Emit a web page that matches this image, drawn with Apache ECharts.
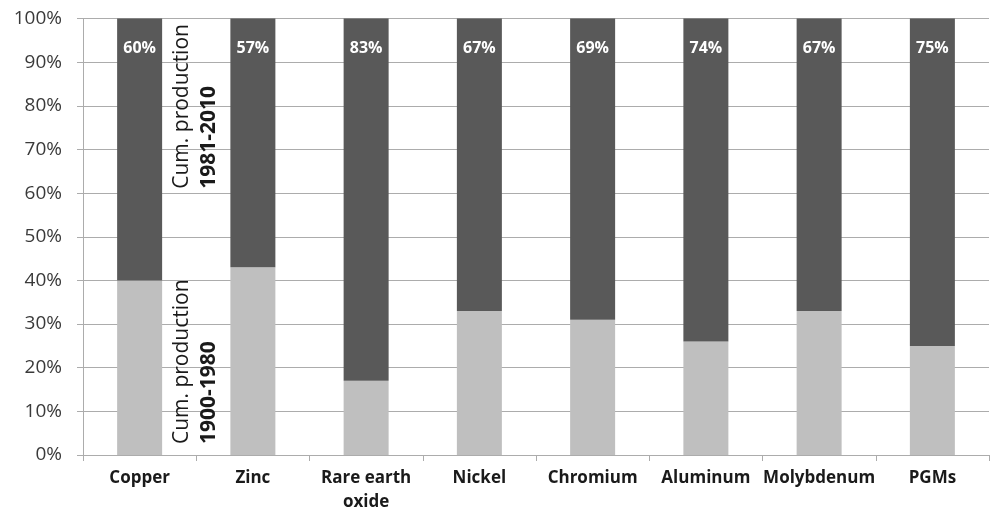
<!DOCTYPE html>
<html>
<head>
<meta charset="utf-8">
<script src="https://cdn.jsdelivr.net/npm/echarts@6/dist/echarts.min.js"></script>
<style>
  html, body { margin: 0; padding: 0; background: #fff; }
  #chart { width: 990px; height: 514px; }
</style>
</head>
<body>
<div id="chart"></div>
<script>
// Share of cumulative metal production by period (percent of 1900-2010 total)
const categories = ['Copper', 'Zinc', 'Rare earth\noxide', 'Nickel', 'Chromium', 'Aluminum', 'Molybdenum', 'PGMs'];
const early1900to1980 = [40, 43, 17, 33, 31, 26, 33, 25];
const recent1981to2010 = [60, 57, 83, 67, 69, 74, 67, 75];
const yTicks = [0, 10, 20, 30, 40, 50, 60, 70, 80, 90, 100];

const FONT = 'Open Sans';
const GRID_COLOR = '#acacac';

const chart = echarts.init(document.getElementById('chart'), null, { renderer: 'canvas' });

chart.setOption({
  animation: false,
  backgroundColor: '#ffffff',
  grid: { left: 83, right: 1, top: 18.5, bottom: 59, containLabel: false },
  xAxis: {
    type: 'category',
    data: categories,
    boundaryGap: true,
    axisLine: { show: true, lineStyle: { color: GRID_COLOR, width: 1 } },
    axisTick: { show: true, length: 6, lineStyle: { color: GRID_COLOR } },
    axisLabel: {
      interval: 0,
      margin: 11,
      fontFamily: FONT,
      fontWeight: 'bold',
      fontSize: 17,
      lineHeight: 24,
      color: '#1a1a1a'
    }
  },
  yAxis: {
    type: 'value',
    min: yTicks[0],
    max: yTicks[yTicks.length - 1],
    interval: 10,
    axisLine: { show: true, lineStyle: { color: GRID_COLOR, width: 1 } },
    axisTick: { show: true, length: 6, lineStyle: { color: GRID_COLOR } },
    splitLine: { show: true, lineStyle: { color: GRID_COLOR, width: 1 } },
    axisLabel: {
      margin: 21,
      fontFamily: FONT,
      fontSize: 19,
      color: '#3a3a3a',
      formatter: v => v + '%'
    }
  },
  series: [
    {
      name: 'Cum. production 1900-1980',
      type: 'bar',
      stack: 'total',
      barWidth: 45,
      data: early1900to1980,
      itemStyle: { color: '#bfbfbf' }
    },
    {
      name: 'Cum. production 1981-2010',
      type: 'bar',
      stack: 'total',
      barWidth: 45,
      data: recent1981to2010,
      itemStyle: { color: '#595959' },
      label: {
        show: true,
        position: 'insideTop',
        distance: 22,
        fontFamily: FONT,
        fontWeight: 'bold',
        fontSize: 16,
        color: '#ffffff',
        formatter: p => p.value + '%'
      }
    }
  ]
});

// Rotated period captions in the gap between the first two bars
function placeCaptions() {
  const x0 = chart.convertToPixel({ xAxisIndex: 0 }, categories[0]);
  const x1 = chart.convertToPixel({ xAxisIndex: 0 }, categories[1]);
  const mid = (x0 + x1) / 2;
  const yUpper = chart.convertToPixel({ yAxisIndex: 0 }, 61);
  const yLower = chart.convertToPixel({ yAxisIndex: 0 }, 2.5);

  function caption(top, bold, x, y) {
    return {
      type: 'group',
      x: x,
      y: y,
      rotation: Math.PI / 2,
      children: [
        {
          type: 'text',
          x: 0, y: -14,
          style: {
            text: top,
            font: 'normal 21px "' + FONT + '"',
            fill: '#1a1a1a',
            align: 'left',
            verticalAlign: 'middle'
          }
        },
        {
          type: 'text',
          x: 0, y: 13,
          style: {
            text: bold,
            font: 'bold 21px "' + FONT + '"',
            fill: '#1a1a1a',
            align: 'left',
            verticalAlign: 'middle'
          }
        }
      ]
    };
  }

  chart.setOption({
    graphic: [
      caption('Cum. production', '1981-2010', mid, yUpper),
      caption('Cum. production', '1900-1980', mid, yLower)
    ]
  });
}
placeCaptions();
</script>
</body>
</html>
